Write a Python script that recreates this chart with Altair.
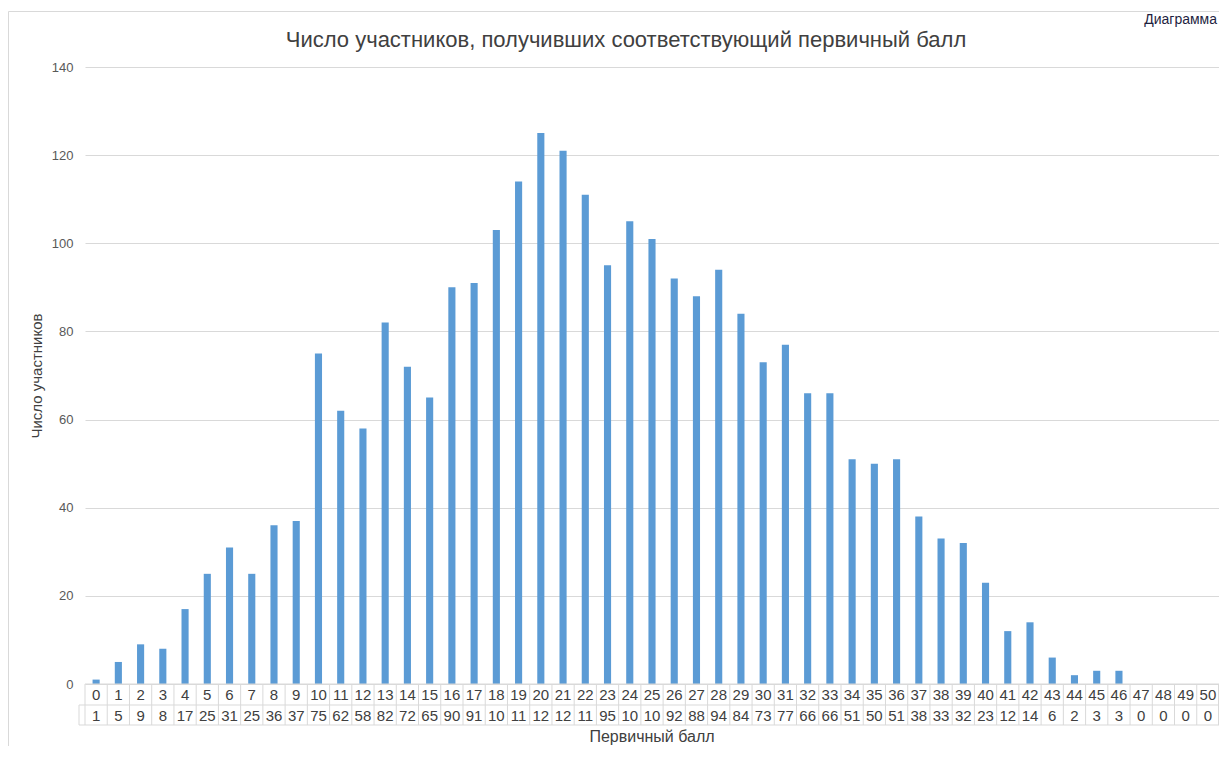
import altair as alt
import pandas as pd

# ---- data ----
scores = ["0", "1", "2", "3", "4", "5", "6", "7", "8", "9",
          "10", "11", "12", "13", "14", "15", "16", "17", "18", "19",
          "20", "21", "22", "23", "24", "25", "26", "27", "28", "29",
          "30", "31", "32", "33", "34", "35", "36", "37", "38", "39",
          "40", "41", "42", "43", "44", "45", "46", "47", "48", "49", "50"]
counts = [1, 5, 9, 8, 17, 25, 31, 25, 36, 37,
          75, 62, 58, 82, 72, 65, 90, 91, 103, 114,
          125, 121, 111, 95, 105, 101, 92, 88, 94, 84,
          73, 77, 66, 66, 51, 50, 51, 38, 33, 32,
          23, 12, 14, 6, 2, 3, 3, 0, 0, 0, 0]
y_ticks = [0, 20, 40, 60, 80, 100, 120, 140]

title_text = "Число участников, получивших соответствующий первичный балл"
y_title = "Число участников"
x_title = "Первичный балл"
corner_text = "Диаграмма"

# data table cells are narrow, so 3-digit numbers are clipped to 2 digits
shown = [str(v)[:2] for v in counts]

df = pd.DataFrame({"score": scores, "count": counts, "shown": shown})
one = pd.DataFrame({"k": [0]})

W, H = 1134, 617
FONT = "Liberation Sans"
GRID = "#d9d9d9"
TXT = "#404040"

xscale = alt.Scale(paddingInner=0, paddingOuter=0)
x_enc = alt.X("score:N", sort=scores, axis=None, scale=xscale)

base = alt.Chart(df)

bars = base.mark_bar(color="#5B9BD5", width=alt.RelativeBandSize(band=0.32)).encode(
    x=x_enc,
    y=alt.Y("count:Q",
            scale=alt.Scale(domain=[0, 140], nice=False),
            axis=alt.Axis(values=y_ticks, grid=True, gridColor=GRID, domain=False,
                          ticks=False, labelPadding=12, labelFontSize=13,
                          labelFont=FONT, labelColor="#595959",
                          title=y_title, titleFont=FONT, titleFontSize=15,
                          titleFontWeight="normal", titleColor=TXT,
                          titlePadding=7)),
)

row1 = base.mark_text(font=FONT, fontSize=15, color=TXT, baseline="middle").encode(
    x=x_enc, y=alt.value(628), text="score:N")
row2 = base.mark_text(font=FONT, fontSize=15, color=TXT, baseline="middle").encode(
    x=x_enc, y=alt.value(648.5), text="shown:N")

vlines = base.mark_rule(color=GRID, strokeWidth=1).encode(
    x=alt.X("score:N", sort=scores, axis=None, scale=xscale, bandPosition=0),
    y=alt.value(617), y2=alt.value(658))

def rule(**kw):
    return alt.Chart(one).mark_rule(color=GRID, strokeWidth=1).encode(**kw)

table_rules = [
    rule(x=alt.value(W - 0.5), y=alt.value(617), y2=alt.value(658)),
    rule(x=alt.value(-6), y=alt.value(638), y2=alt.value(658)),
    rule(x=alt.value(0), x2=alt.value(W), y=alt.value(617)),
    rule(x=alt.value(-6), x2=alt.value(W), y=alt.value(638)),
    rule(x=alt.value(-6), x2=alt.value(W), y=alt.value(658)),
]
frame = [
    rule(x=alt.value(-76.5), y=alt.value(-55.5), y2=alt.value(679)),
    rule(x=alt.value(-76.5), x2=alt.value(W), y=alt.value(-55.5)),
]

def label(text, x, y, size, align="center", baseline="middle", color=TXT):
    return alt.Chart(one).mark_text(font=FONT, fontSize=size, color=color,
                                    align=align, baseline=baseline).encode(
        x=alt.value(x), y=alt.value(y), text=alt.value(text))

texts = [
    label(title_text, 541, -27, 22),
    label(x_title, W / 2, 670, 16),
    label(corner_text, W - 2, -43, 14, align="right", baseline="alphabetic", color="#1f1f3f"),
]

chart = alt.layer(bars, vlines, *table_rules, row1, row2, *frame, *texts).properties(
    width=W, height=H,
    autosize=alt.AutoSizeParams(type="none"),
    padding={"left": 77, "top": 59, "right": 0, "bottom": 62},
    background="white",
).configure_view(stroke=None)

chart.save("out.html", embed_options={"renderer": "svg", "actions": False})
